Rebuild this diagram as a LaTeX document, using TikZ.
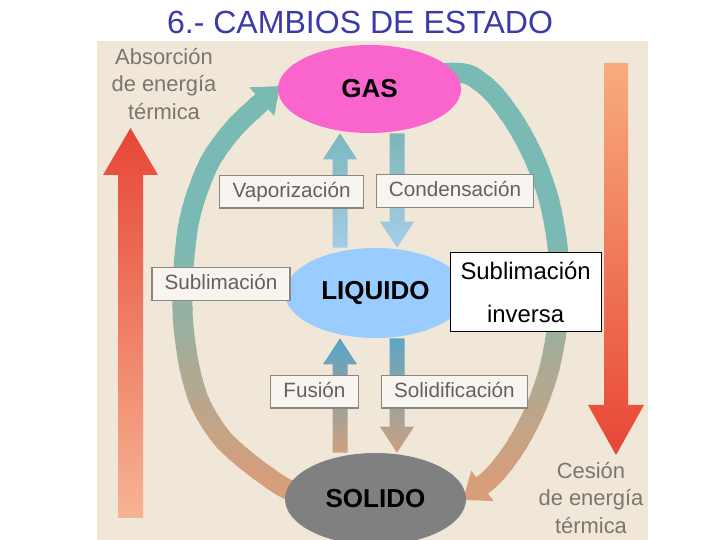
\documentclass[tikz,border=0pt]{standalone}
\usepackage{fontspec}
\setmainfont{Liberation Sans}
\usetikzlibrary{shapes.geometric,arrows.meta,backgrounds}

\definecolor{titleblue}{RGB}{58,58,168}
\definecolor{photo}{RGB}{240,231,217}
\definecolor{gaspink}{RGB}{250,100,205}
\definecolor{liqblue}{RGB}{153,204,255}
\definecolor{solgray}{RGB}{128,128,128}
\definecolor{boxfill}{RGB}{248,245,240}
\definecolor{boxline}{RGB}{138,134,128}
\definecolor{boxtext}{RGB}{100,96,92}
\definecolor{energytext}{RGB}{122,117,112}
\definecolor{ringtop}{RGB}{122,186,180}
\definecolor{ringbot}{RGB}{214,158,122}
\definecolor{hotred}{RGB}{231,70,55}
\definecolor{hotmid}{RGB}{238,108,76}
\definecolor{hotpale}{RGB}{246,180,148}
\definecolor{vaptop}{RGB}{122,184,190}
\definecolor{vapbot}{RGB}{165,203,228}
\definecolor{contop}{RGB}{125,183,182}
\definecolor{conbot}{RGB}{165,205,233}
\definecolor{fustop}{RGB}{86,164,200}
\definecolor{fusbot}{RGB}{208,160,126}
\definecolor{soltop}{RGB}{92,166,196}
\definecolor{solbot}{RGB}{204,160,128}

\begin{document}
\begin{tikzpicture}[
    state/.style={ellipse, inner sep=0pt, font=\fontsize{18.5}{22}\selectfont\bfseries},
    labelbox/.style={draw=boxline, fill=boxfill, text=boxtext, line width=0.9pt,
        inner xsep=0.32cm, inner ysep=0pt, minimum height=0.82cm,
        text height=11pt, text depth=3pt, font=\fontsize{14.7}{17}\selectfont},
    energy/.style={align=center, text=energytext, font=\fontsize{15.6}{19.8}\selectfont},
    ring/.style={line width=0.5cm, -{Triangle[width=0.9cm,length=0.6cm]}}
]

    % Picture size
    \useasboundingbox (0,0) rectangle (18,13.5);

    % Title
    \node[text=titleblue, font=\fontsize{22.8}{27}\selectfont] (title) at (9,12.94) {6.- CAMBIOS DE ESTADO};

    % States
    \node[state, fill=gaspink, minimum width=4.575cm, minimum height=2.2cm] (gas) at (9.2375,11.275) {GAS};
    \node[state, fill=liqblue, minimum width=4.525cm, minimum height=2.25cm] (liquido) at (9.3875,6.175) {LIQUIDO};
    \node[state, fill=solgray, minimum width=4.525cm, minimum height=2.3cm] (solido) at (9.3875,1.025) {SOLIDO};

    % Process labels
    \node[labelbox] (vapor) at (7.29,8.71) {Vaporización};
    \node[labelbox] (conden) at (11.375,8.72) {Condensación};
    \node[labelbox] (sublim) at (5.525,6.4) {Sublimación};
    \node[labelbox] (fusion) at (7.86,3.71) {Fusión};
    \node[labelbox] (solidif) at (11.36,3.71) {Solidificación};
    \node[draw=black, fill=white, line width=0.8pt, inner sep=0pt, align=center,
        minimum width=3.775cm, minimum height=1.975cm,
        font=\fontsize{17}{20.4}\selectfont] (sublinv) at (13.14,6.19) {Sublimación\\[10pt]inversa};

    % Energy texts
    \node[energy] (absorb) at (4.1,11.4) {Absorción\\de energía\\térmica};
    \node[energy] (cesion) at (14.775,1.05) {Cesión\\de energía\\térmica};

    % Columns of the vertical arrows
    \coordinate (lcol) at (8.5,0);
    \coordinate (rcol) at (9.925,0);
    \coordinate (vapfoot) at (liquido.north -| lcol);
    \coordinate (vaptip) at (gas.south -| lcol);
    \coordinate (contail) at (gas.south -| rcol);
    \coordinate (contip) at (liquido.north -| rcol);
    \coordinate (fusfoot) at (solido.north -| lcol);
    \coordinate (fustip) at (liquido.south -| lcol);
    \coordinate (soltail) at (liquido.south -| rcol);
    \coordinate (soltip) at (solido.north -| rcol);

    % Fat arrows: shaft half width, head half width, head length
    \def\hw{0.1875}
    \def\hh{0.425}
    \def\hl{0.65}
    \def\fatup#1#2#3#4{%
        \shade[top color=#3, bottom color=#4]
            ([xshift=-\hw cm]#1) -- ([shift={(-\hw,-\hl)}]#2) -- ([shift={(-\hh,-\hl)}]#2) -- (#2)
            -- ([shift={(\hh,-\hl)}]#2) -- ([shift={(\hw,-\hl)}]#2) -- ([xshift=\hw cm]#1) -- cycle;}
    \def\fatdown#1#2#3#4{%
        \shade[top color=#3, bottom color=#4]
            ([xshift=-\hw cm]#1) -- ([shift={(-\hw,\hl)}]#2) -- ([shift={(-\hh,\hl)}]#2) -- (#2)
            -- ([shift={(\hh,\hl)}]#2) -- ([shift={(\hw,\hl)}]#2) -- ([xshift=\hw cm]#1) -- cycle;}

    \begin{scope}[on background layer]
        % Photo
        \fill[photo] (2.425,0) rectangle (16.2,12.475);

        % Energy arrows
        \shade[top color=hotred, middle color=hotmid, bottom color=hotpale]
            (2.95,0.55) -- (2.95,9.125) -- (2.575,9.125) -- (3.2625,10.3)
            -- (3.95,9.125) -- (3.575,9.125) -- (3.575,0.55) -- cycle;
        \shade[top color=hotpale!85!orange, middle color=hotmid, bottom color=hotred]
            (15.1,11.925) -- (15.1,3.375) -- (14.7,3.375) -- (15.4,2.125)
            -- (16.1,3.375) -- (15.7,3.375) -- (15.7,11.925) -- cycle;

        % Ring, coloured by height
        \foreach \k in {0,...,49}{
            \pgfmathtruncatemacro{\p}{max(0,min(100,(\k*0.25-1.4)*100/6))}
            \begin{scope}
                \clip (2.4,\k*0.25) rectangle (16.2,\k*0.25+0.3);
                \draw[ring, ringtop!\p!ringbot] plot[smooth] coordinates {
                    (7.5,1.2) (7.075,1.325) (6.2,1.95) (5.525,2.575) (5.0,3.425) (4.725,4.375)
                    (4.575,5.5) (4.575,6.625) (4.7,7.825) (4.925,8.675) (5.3,9.55) (5.95,10.4) (7.0,11.35)};
                \draw[ring, ringtop!\p!ringbot] plot[smooth] coordinates {
                    (10.6,11.6) (11.2,11.68) (11.75,11.62) (12.325,11.175) (12.9,10.4) (13.375,9.5) (13.725,8.5)
                    (13.925,7.45) (14.0,6.375) (13.925,5.3) (13.725,4.25) (13.375,3.25) (12.9,2.35)
                    (12.325,1.6) (11.575,1.0)};
            \end{scope}
        }

        % Vertical arrows between the states
        \fatup{vapfoot}{vaptip}{vaptop}{vapbot}
        \fatdown{contail}{contip}{contop}{conbot}
        \fatup{fusfoot}{fustip}{fustop}{fusbot}
        \fatdown{soltail}{soltip}{soltop}{solbot}
    \end{scope}

\end{tikzpicture}
\end{document}
